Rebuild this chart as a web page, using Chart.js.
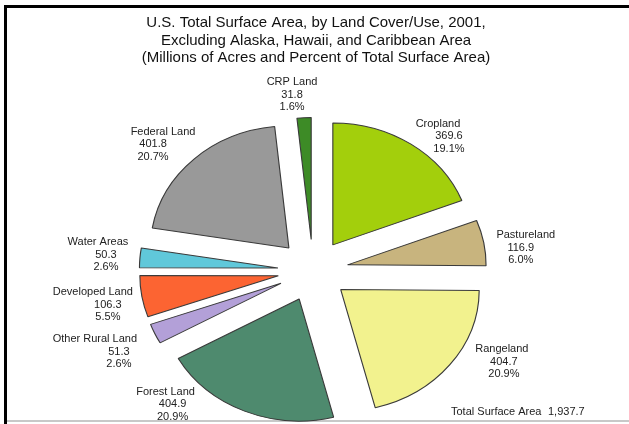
<!DOCTYPE html>
<html>
<head>
<meta charset="utf-8">
<title>U.S. Total Surface Area by Land Cover/Use, 2001</title>
<script src="https://cdn.jsdelivr.net/npm/chart.js@4.4.1/dist/chart.umd.min.js"></script>
<style>
    html, body { margin: 0; padding: 0; background: #fff; }
    #wrap { width: 629px; height: 424px; position: relative; }
</style>
</head>
<body>
<div id="wrap"><canvas id="landChart"></canvas></div>
<script>
// data
const categories = ['Cropland', 'Pastureland', 'Rangeland', 'Forest Land', 'Other Rural Land',
    'Developed Land', 'Water Areas', 'Federal Land', 'CRP Land'];
const acres = [369.6, 116.9, 404.7, 404.9, 51.3, 106.3, 50.3, 401.8, 31.8];
const totalArea = 1937.7;
const titleLines = [
    'U.S. Total Surface Area, by Land Cover/Use, 2001,',
    'Excluding Alaska, Hawaii, and Caribbean Area',
    '(Millions of Acres and Percent of Total Surface Area)'
];

// styling
const sliceColors = ['#a3cf0c', '#c8b47e', '#f2f28e', '#4e8a6e', '#b3a0d8',
    '#fc6432', '#60c8da', '#999999', '#3d8b26'];
const EXPLODE = 31;      // px each slice is pulled out
const RADIUS = 122;
const STRETCH = 1.135;   // the original pie is a little wider than tall
// label block placement relative to the outer tip of its slice: [name dx, dy, numbers dx]
const labelShift = [[27, -8, 11], [42, 5, -5], [52, -3, 2], [-79, -7, 7], [-60, 18, 24],
    [-49, 8, 15], [-42, -3, 8], [-31, -15, -10], [-12, -23, 0]];
const FONT = '"Liberation Sans", Arial, sans-serif';

// draws the arcs itself so every slice is pulled out by the same amount
// (chart.js' own offset also trims small slices), and stretches the pie sideways
const explodedPie = {
    id: 'explodedPie',
    beforeDatasetsDraw(chart) {
        const arcs = chart.getDatasetMeta(0).data;
        const ctx = chart.ctx;
        const cx = arcs[0].x, cy = arcs[0].y;
        ctx.save();
        ctx.translate(cx, cy);
        ctx.scale(STRETCH, 1);
        ctx.translate(-cx, -cy);
        arcs.forEach(arc => {
            const mid = (arc.startAngle + arc.endAngle) / 2;
            ctx.save();
            ctx.translate(Math.cos(mid) * EXPLODE, Math.sin(mid) * EXPLODE);
            arc.draw(ctx);
            ctx.restore();
        });
        ctx.restore();
        return false;
    }
};

const frameAndText = {
    id: 'frameAndText',
    beforeDraw(chart) {
        const ctx = chart.ctx;
        ctx.save();
        ctx.fillStyle = '#fff';
        ctx.fillRect(0, 0, chart.width, chart.height);
        ctx.fillStyle = '#000';
        ctx.fillRect(4, 5, chart.width - 4, 3);
        ctx.fillRect(4, 5, 3, chart.height - 5);
        ctx.fillStyle = '#c8c8c8';
        ctx.fillRect(7, 420, chart.width - 7, 2);
        ctx.restore();
    },
    afterDraw(chart) {
        const ctx = chart.ctx;
        ctx.save();
        ctx.fillStyle = '#111';
        ctx.textAlign = 'center';
        ctx.textBaseline = 'middle';
        ctx.font = '15px ' + FONT;
        titleLines.forEach((t, i) => ctx.fillText(t, 316, 23 + i * 17.5));

        ctx.font = '11px ' + FONT;
        ctx.fillStyle = '#222';
        chart.getDatasetMeta(0).data.forEach((arc, i) => {
            const mid = (arc.startAngle + arc.endAngle) / 2;
            const r = arc.outerRadius + EXPLODE;
            const [dx, dy, ndx] = labelShift[i];
            const px = arc.x + STRETCH * Math.cos(mid) * r + dx;
            const py = arc.y + Math.sin(mid) * r + dy;
            ctx.fillText(categories[i], px, py - 12.5);
            ctx.fillText(acres[i].toFixed(1), px + ndx, py);
            ctx.fillText((acres[i] / totalArea * 100).toFixed(1) + '%', px + ndx, py + 12.5);
        });

        ctx.textAlign = 'left';
        ctx.fillText('Total Surface Area', 451, 412);
        ctx.fillText(totalArea.toLocaleString('en-US', { minimumFractionDigits: 1 }), 548, 412);
        ctx.restore();
    }
};

new Chart(document.getElementById('landChart'), {
    type: 'pie',
    data: {
        labels: categories,
        datasets: [{
            data: acres,
            backgroundColor: sliceColors,
            borderColor: '#3a3a3a',
            borderWidth: 1
        }]
    },
    options: {
        responsive: true,
        maintainAspectRatio: false,
        animation: false,
        radius: RADIUS,
        layout: { padding: { left: 0, right: 3, top: 117, bottom: 0 } },
        plugins: {
            legend: { display: false },
            title: { display: false },
            tooltip: { enabled: false }
        }
    },
    plugins: [explodedPie, frameAndText]
});
</script>
</body>
</html>
